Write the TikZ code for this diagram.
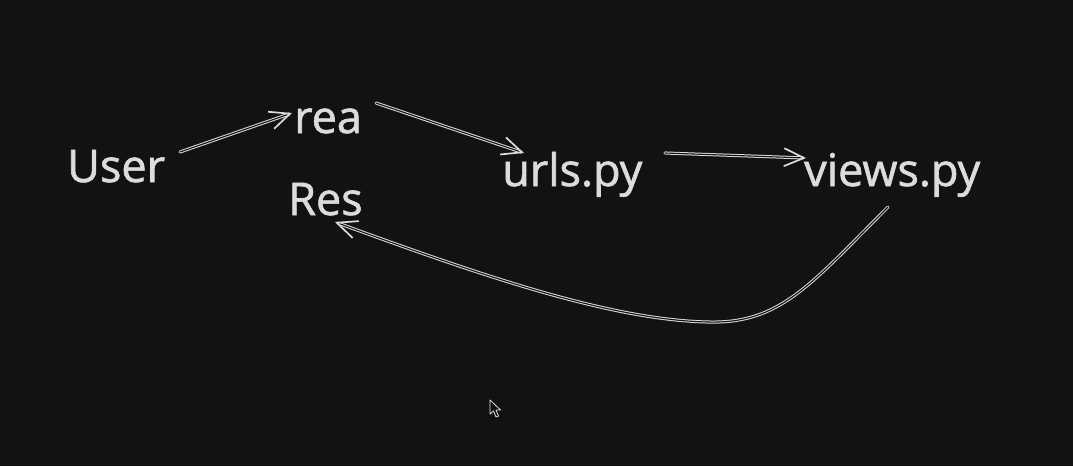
\documentclass[tikz,border=0pt]{standalone}
\usepackage{fontspec}
\newfontfamily\lblfont{Open Sans}[FakeBold=1.4]
\usetikzlibrary{arrows.meta}
\definecolor{bg}{HTML}{121212}
\definecolor{ink}{HTML}{DCDCDC}
\begin{document}
\begin{tikzpicture}[x=1pt,y=-1pt,
  lbl/.style={text=ink, anchor=base west, inner sep=0pt, font=\lblfont\fontsize{45}{52}\selectfont},
  conn/.style={draw=ink, line width=1pt, double=bg, double distance=1.1pt, line cap=round,
    -{Straight Barb[length=20pt,width=18pt,line width=1.7pt]}},
]
\useasboundingbox[fill=bg] (0,0) rectangle (1073,466);
\node[lbl] (user) at (67,182) {User};
\node[lbl] (req) at (294,133) {rea};
\node[lbl] (res) at (288,215) {Res};
\node[lbl] (urls) at (502,186) {urls.py};
\node[lbl] (views) at (804,186) {views.py};
% connector end points
\coordinate (u1) at (180,152);
\coordinate (r1) at (292,113);
\coordinate (r2) at (376,103);
\coordinate (l1) at (524,153);
\coordinate (l2) at (665,153);
\coordinate (v1) at (806,158);
\coordinate (v2) at (888,207);
\coordinate (s1) at (335,222);
\coordinate (bend) at (708,322);
\draw[conn] (u1) -- (r1);
\draw[conn] (r2) -- (l1);
\draw[conn] (l2) -- (v1);
\draw[conn] (v2) .. controls (810,285) and (780,324) .. (bend) .. controls (610,320) and (480,275) .. (s1);
% mouse cursor
\draw[draw=ink!80, fill=bg, line width=0.8pt, line join=round]
  (490,400) -- (490,414) -- (493.5,411) -- (496,417) -- (498.5,416) -- (496,410) -- (500.5,410) -- cycle;
\end{tikzpicture}
\end{document}
